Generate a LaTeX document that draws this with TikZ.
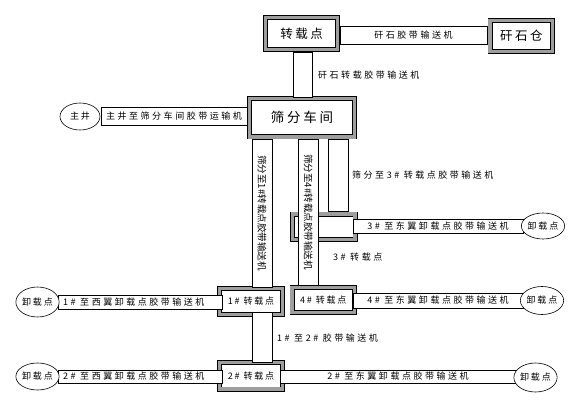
\documentclass[tikz,border=0pt]{standalone}
\usepackage{fontspec}
\setmainfont{Noto Sans CJK SC}
\newfontfamily\cjkA[LetterSpace=28]{Noto Sans CJK SC}
\newfontfamily\cjkB[LetterSpace=20]{Noto Sans CJK SC}
\newfontfamily\cjkC{Noto Sans CJK SC}
\usetikzlibrary{shapes.geometric}
\definecolor{boxgray}{RGB}{158,158,158}
\tikzset{
  box/.style={draw, line width=0.6pt, double=boxgray, double distance=3.8pt, fill=white, inner sep=0pt,
    font=\cjkB\fontsize{12.5}{14}\selectfont},
  smallbox/.style={box, font=\cjkB\fontsize{9}{10}\selectfont},
  belt/.style={draw, line width=0.6pt, fill=white, inner sep=0pt, font=\cjkA\fontsize{9}{10}\selectfont},
  vbelt/.style={belt, rotate=-90, font=\cjkC\fontsize{9.5}{10}\selectfont},
  ell/.style={draw, ellipse, fill=white, inner sep=0pt, line width=0.6pt, font=\cjkB\fontsize{9}{10}\selectfont},
  lbl/.style={inner sep=0pt, anchor=west, font=\cjkA\fontsize{9}{10}\selectfont}
}
\begin{document}
\begin{tikzpicture}[x=1pt,y=-1pt]
\useasboundingbox (0,0) rectangle (576,401);
% transfer points and buildings
\node[box, minimum width=72pt, minimum height=32pt] (T) at (301.5,33.5) {转载点};
\node[box, minimum width=62.5pt, minimum height=31pt] (R) at (521.25,36) {矸石仓};
\node[box, minimum width=105pt, minimum height=38.5pt, font=\cjkB\fontsize{13.5}{15}\selectfont] (S) at (302,117.75) {筛分车间};
\node[box, minimum width=62.5pt, minimum height=25.5pt] (B3) at (323.75,226.75) {};
\node[smallbox, minimum width=63pt, minimum height=26pt] (B1) at (251,301.5) {1\# 转载点};
\node[smallbox, minimum width=62.5pt, minimum height=25pt] (B4) at (323.25,300) {4\# 转载点};
\node[smallbox, minimum width=63pt, minimum height=26.5pt] (B2) at (251,375.75) {2\# 转载点};
% belts
\node[belt, minimum width=147pt, minimum height=18pt] (b0) at (413.5,35) {矸石胶带输送机};
\node[belt, minimum width=19pt, minimum height=45pt] (b1) at (302.5,74.5) {};
\node[lbl] (l1) at (318,75) {矸石转载胶带输送机};
\node[belt, minimum width=146pt, minimum height=18pt] (b2) at (174,116) {主井至筛分车间胶带运输机};
\node[vbelt, minimum width=148pt, minimum height=20pt] (b3) at (262,213) {筛分至1\#转载点胶带输送机};
\node[vbelt, minimum width=146pt, minimum height=19.5pt] (b4) at (308.25,212) {筛分至4\#转载点胶带输送机};
\node[belt, minimum width=20pt, minimum height=72.5pt] (b5) at (338,175.25) {};
\node[lbl] (l5) at (352,175) {筛分至3\# 转载点胶带输送机};
\node[belt, minimum width=170pt, minimum height=14pt] (b6) at (438,226) {3\# 至东翼卸载点胶带输送机};
\node[lbl] (l3) at (333,257) {3\# 转载点};
\node[belt, minimum width=164pt, minimum height=14pt] (b7) at (140,302) {};
\node[lbl] (l7) at (63,302) {1\# 至西翼卸载点胶带输送机};
\node[belt, minimum width=170pt, minimum height=15pt] (b8) at (438,300.5) {4\# 至东翼卸载点胶带输送机};
\node[belt, minimum width=20pt, minimum height=50pt] (b9) at (262,337) {};
\node[lbl] (l9) at (277,338) {1\# 至2\# 胶带输送机};
\node[belt, minimum width=164pt, minimum height=13pt] (b10) at (140,376.5) {};
\node[lbl] (l10) at (63,376.5) {2\# 至西翼卸载点胶带输送机};
\node[belt, minimum width=236pt, minimum height=13pt] (b11) at (398,376.5) {2\# 至东翼卸载点胶带输送机};
% end points
\node[ell, minimum width=40pt, minimum height=27pt] (E0) at (80,116.5) {主井};
\node[ell, minimum width=40pt, minimum height=26pt] (E3) at (543,226) {卸载点};
\node[ell, minimum width=41pt, minimum height=30pt] (E1) at (37.5,302) {卸载点};
\node[ell, minimum width=42pt, minimum height=28pt] (E4) at (542,300.5) {卸载点};
\node[ell, minimum width=41pt, minimum height=27pt] (E2L) at (37.5,376.5) {卸载点};
\node[ell, minimum width=43pt, minimum height=29pt] (E2R) at (535.5,377.5) {卸载点};
\end{tikzpicture}
\end{document}
